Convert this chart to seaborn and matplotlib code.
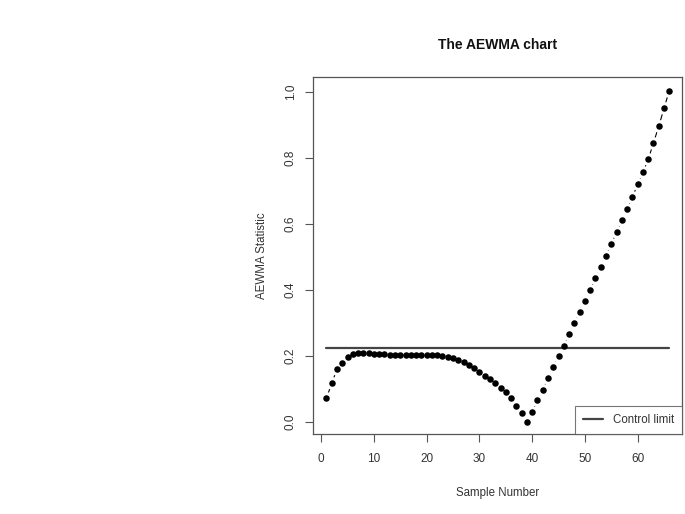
import numpy as np
import pandas as pd
import seaborn as sns
import matplotlib.pyplot as plt

# values
samples = list(range(1, 67))
aewma = [
    0.071, 0.117, 0.159, 0.179, 0.196, 0.206, 0.209, 0.210, 0.209, 0.207,
    0.206, 0.205, 0.204, 0.204, 0.204, 0.204, 0.204, 0.204, 0.204, 0.204,
    0.204, 0.203, 0.201, 0.198, 0.194, 0.188, 0.181, 0.172, 0.162, 0.152,
    0.140, 0.129, 0.117, 0.104, 0.089, 0.071, 0.049, 0.026, 0.000, 0.030,
    0.065, 0.097, 0.133, 0.166, 0.200, 0.231, 0.267, 0.301, 0.333, 0.367,
    0.400, 0.436, 0.469, 0.504, 0.540, 0.575, 0.611, 0.647, 0.682, 0.720,
    0.757, 0.796, 0.846, 0.897, 0.951, 1.005,
]
control_limit = 0.225
x_ticks = [0, 10, 20, 30, 40, 50, 60]
y_ticks = [0.0, 0.2, 0.4, 0.6, 0.8, 1.0]

df = pd.DataFrame({'Sample Number': samples, 'AEWMA Statistic': aewma})
limit_df = pd.DataFrame({'x': [samples[0], samples[-1]],
                         'y': [control_limit, control_limit]})

sns.set_style('white')
plt.rcParams['font.family'] = ['Liberation Sans', 'DejaVu Sans']

fig = plt.figure(figsize=(6.85, 5.14), dpi=100)
ax = fig.add_axes([0.4565, 0.155, 0.5391, 0.6958])

text_col = '#333333'

# R type = "b": thin segments that stop short of each point.
# line first, then a white halo under every point, then the black dots
sns.lineplot(data=df, x='Sample Number', y='AEWMA Statistic', color='black',
             linewidth=0.8, ax=ax, zorder=2)
sns.scatterplot(data=df, x='Sample Number', y='AEWMA Statistic', color='white',
                s=85, linewidth=0, ax=ax, zorder=3)
# control limit
sns.lineplot(data=limit_df, x='x', y='y', color='#444444', linewidth=1.6,
             label='Control limit', ax=ax, zorder=4)
sns.scatterplot(data=df, x='Sample Number', y='AEWMA Statistic', color='black',
                s=22, linewidth=0, ax=ax, zorder=5)

ax.set_xlim(-1.6, 68.4)
ax.set_ylim(-0.038, 1.047)
ax.set_xticks(x_ticks)
ax.set_yticks(y_ticks)
ax.set_xticklabels([str(t) for t in x_ticks])
ax.set_yticklabels([f'{t:.1f}' for t in y_ticks], rotation=90, va='center')

ax.tick_params(axis='both', direction='out', length=5.5, width=0.8,
               color='#555555', labelsize=8.5, labelcolor=text_col, pad=8,
               bottom=True, left=True)
ax.tick_params(axis='y', pad=6)
for s in ax.spines.values():
    s.set_color('#555555')
    s.set_linewidth(0.9)

ax.set_xlabel('Sample Number', fontsize=8.3, color=text_col, labelpad=16)
ax.set_ylabel('AEWMA Statistic', fontsize=8.3, color=text_col, labelpad=12)
ax.set_title('The AEWMA chart', fontsize=10, fontweight='bold',
             color='#111111', pad=20)

leg = ax.legend(loc='lower right', fontsize=8.3, frameon=True, fancybox=False,
                borderaxespad=0, handlelength=1.8, borderpad=0.7)
leg.get_frame().set_edgecolor('#555555')
leg.get_frame().set_linewidth(0.8)
for t in leg.get_texts():
    t.set_color(text_col)

fig.savefig('out.png', dpi=100)
